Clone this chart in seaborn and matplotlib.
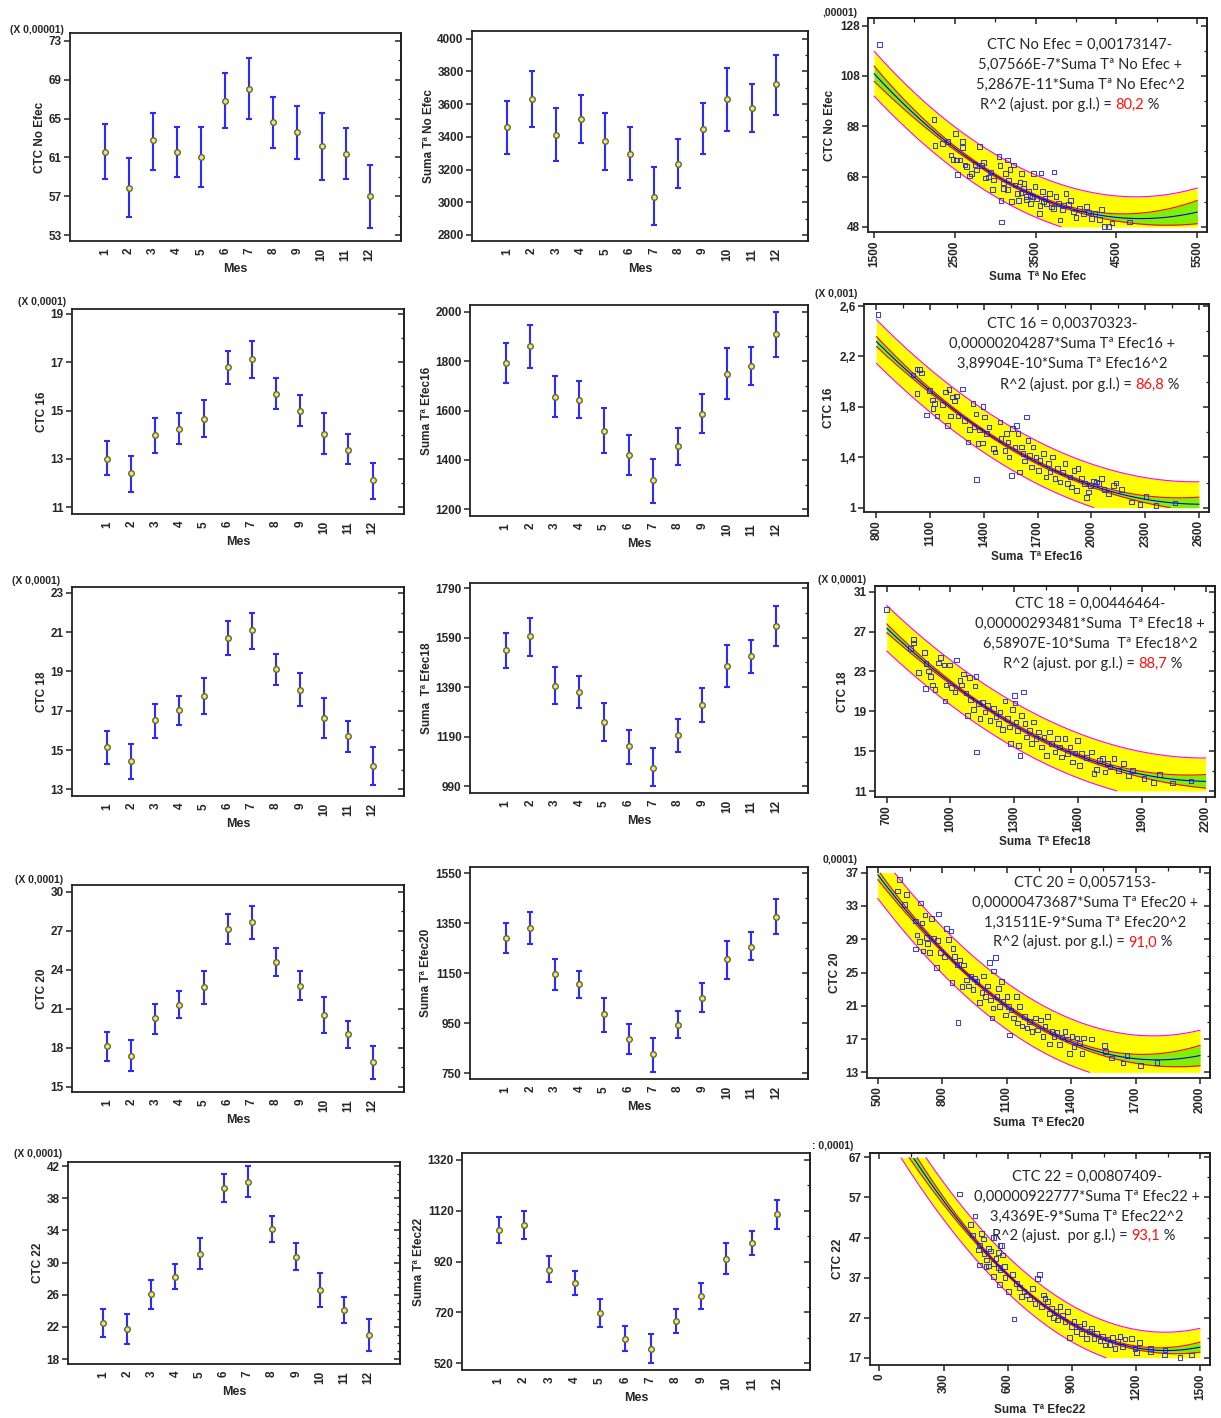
import numpy as np
import matplotlib
matplotlib.use("Agg")
import matplotlib.pyplot as plt
import seaborn as sns
from matplotlib.ticker import FixedLocator, FuncFormatter

sns.set_theme(style="white")
plt.rcParams['font.family'] = ['Liberation Sans', 'DejaVu Sans']

months = list(range(1, 13))

# ---------------- Row 1: No Efec ----------------
ctc_ne_mean = [61.58, 57.87, 62.74, 61.58, 61.03, 66.79, 68.03, 64.63, 63.63, 62.13, 61.40, 56.98]
ctc_ne_lo = [58.76, 54.92, 59.72, 58.94, 57.97, 64.01, 65.00, 61.92, 60.82, 58.69, 58.76, 53.75]
ctc_ne_hi = [64.46, 60.96, 65.59, 64.11, 64.15, 69.64, 71.18, 67.20, 66.34, 65.59, 64.01, 60.20]
suma_ne_mean = [3457, 3634, 3412, 3508, 3374, 3294, 3034, 3235, 3449, 3630, 3575, 3723]
suma_ne_lo = [3296, 3461, 3252, 3365, 3197, 3136, 2859, 3089, 3296, 3435, 3431, 3536]
suma_ne_hi = [3618, 3803, 3579, 3654, 3546, 3457, 3213, 3384, 3607, 3823, 3723, 3902]
pts_ne = [(1570, 120.4), (2244, 90.8), (2256, 80.3), (2347, 81.2), (2417, 81.9), (2508, 85.2),
          (2595, 81.9), (2595, 79.5), (2450, 76.6), (2479, 74.8), (2521, 74.6), (2562, 74.6),
          (2529, 68.9), (2624, 72.6), (2678, 68.3), (2707, 69.3), (2748, 72.9), (2802, 79.9),
          (2831, 72.3), (2851, 73.6), (2880, 67.5), (2913, 67.9), (2942, 69.9), (2963, 62.9),
          (3045, 75.9), (3058, 72.3), (3070, 58.6), (3078, 50.0), (3099, 63.3), (3124, 69.3),
          (3149, 74.6), (3161, 66.6), (3182, 70.9), (3203, 58.0), (3223, 72.6), (3244, 64.6),
          (3273, 61.3), (3306, 65.9), (3327, 69.3), (3355, 65.3), (3380, 60.0), (3409, 62.0),
          (3438, 57.3), (3471, 69.3), (3492, 64.0), (3512, 59.3), (3545, 53.3), (3566, 69.5),
          (3587, 62.0), (3616, 59.3), (3636, 57.3), (3669, 61.3), (3698, 56.0), (3727, 69.9),
          (3752, 60.0), (3781, 57.3), (3802, 50.7), (3835, 54.9), (3876, 61.3), (3905, 57.0),
          (3934, 58.6), (3967, 54.0), (4000, 51.7), (4041, 55.3), (4091, 53.3), (4132, 56.2),
          (4157, 54.0), (4194, 51.3), (4236, 53.3), (4289, 50.9), (4318, 54.9), (4347, 48.3),
          (4405, 48.3), (4442, 49.6), (4661, 50.0), (3388, 58.9), (3554, 56.6), (3719, 55.3),
          (3843, 56.6), (3285, 58.6), (3430, 60.6), (3099, 65.5), (2975, 66.6), (2769, 70.6),
          (2645, 71.9), (3150, 63.0), (3320, 61.5), (3460, 60.2), (3600, 58.0), (3350, 63.5)]
coef_ne = [0.00173147, -5.07566e-7, 5.2867e-11]
r2_ne = "80,2"

# ---------------- Row 2: Efec16 ----------------
ctc_16_mean = [13.00, 12.41, 13.98, 14.24, 14.67, 16.82, 17.12, 15.70, 14.99, 14.02, 13.37, 12.12]
ctc_16_lo = [12.34, 11.65, 13.26, 13.62, 13.92, 16.09, 16.34, 15.07, 14.37, 13.21, 12.78, 11.33]
ctc_16_hi = [13.72, 13.12, 14.70, 14.89, 15.44, 17.48, 17.87, 16.35, 15.66, 14.88, 14.03, 12.85]
suma_16_mean = [1792, 1861, 1655, 1641, 1518, 1419, 1317, 1455, 1587, 1749, 1782, 1908]
suma_16_lo = [1711, 1773, 1572, 1569, 1429, 1339, 1227, 1380, 1508, 1648, 1705, 1818]
suma_16_hi = [1872, 1947, 1738, 1718, 1610, 1501, 1404, 1531, 1665, 1852, 1857, 2000]
pts_16 = [(809, 2.534), (1005, 2.052), (1027, 2.099), (1042, 2.097), (1051, 2.070), (1027, 1.906),
          (1079, 1.734), (1098, 1.932), (1113, 1.853), (1116, 1.787), (1126, 1.827), (1139, 1.726),
          (1168, 1.821), (1187, 1.919), (1196, 1.654), (1206, 1.938), (1213, 1.726), (1224, 1.879),
          (1237, 1.848), (1247, 1.885), (1256, 1.726), (1280, 1.943), (1293, 1.694), (1312, 1.522),
          (1321, 1.620), (1340, 1.827), (1344, 1.641), (1355, 1.742), (1359, 1.223), (1368, 1.509),
          (1377, 1.615), (1392, 1.514), (1396, 1.805), (1405, 1.721), (1414, 1.588), (1429, 1.641),
          (1452, 1.469), (1461, 1.442), (1489, 1.681), (1496, 1.548), (1517, 1.456), (1526, 1.588),
          (1535, 1.522), (1541, 1.403), (1554, 1.257), (1559, 1.628), (1573, 1.482), (1582, 1.654),
          (1591, 1.588), (1597, 1.283), (1610, 1.482), (1619, 1.429), (1628, 1.371), (1638, 1.721),
          (1647, 1.535), (1656, 1.416), (1665, 1.323), (1675, 1.482), (1690, 1.403), (1703, 1.297),
          (1712, 1.376), (1731, 1.429), (1746, 1.244), (1759, 1.350), (1768, 1.283), (1783, 1.403),
          (1796, 1.230), (1809, 1.310), (1824, 1.204), (1839, 1.283), (1852, 1.350), (1865, 1.191),
          (1880, 1.244), (1889, 1.164), (1902, 1.297), (1917, 1.138), (1926, 1.310), (1945, 1.230),
          (1963, 1.191), (1973, 1.079), (1982, 1.124), (1995, 1.177), (2010, 1.212), (2029, 1.204),
          (2043, 1.191), (2056, 1.230), (2070, 1.143), (2094, 1.111), (2122, 1.177), (2137, 1.196),
          (2168, 1.143), (2224, 1.045), (2271, 1.024), (2304, 1.090), (2360, 1.019), (2466, 1.037)]
coef_16 = [0.00370323, -0.00000204287, 3.89904e-10]
r2_16 = "86,8"

# ---------------- Row 3: Efec18 ----------------
ctc_18_mean = [15.16, 14.43, 16.53, 17.02, 17.74, 20.69, 21.10, 19.13, 18.06, 16.63, 15.70, 14.17]
ctc_18_lo = [14.29, 13.54, 15.63, 16.26, 16.84, 19.83, 20.15, 18.33, 17.26, 15.60, 14.90, 13.24]
ctc_18_hi = [15.99, 15.31, 17.36, 17.77, 18.69, 21.56, 21.98, 19.89, 18.91, 17.67, 16.48, 15.14]
suma_18_mean = [1541, 1595, 1395, 1371, 1250, 1151, 1065, 1198, 1317, 1475, 1515, 1636]
suma_18_lo = [1467, 1518, 1324, 1308, 1172, 1079, 990, 1130, 1249, 1390, 1449, 1557]
suma_18_hi = [1608, 1669, 1471, 1434, 1327, 1219, 1145, 1263, 1386, 1562, 1580, 1720]
pts_18 = [(700, 29.22), (813, 25.30), (825, 26.21), (825, 25.87), (850, 22.89), (877, 24.90),
          (882, 21.28), (885, 23.80), (896, 23.06), (907, 22.52), (916, 21.62), (927, 21.18),
          (943, 23.86), (954, 24.40), (970, 23.63), (974, 20.05), (979, 21.62), (995, 23.63),
          (1006, 21.39), (1021, 20.95), (1029, 24.13), (1045, 22.06), (1053, 21.62), (1060, 22.73),
          (1073, 20.85), (1079, 18.60), (1089, 22.39), (1095, 20.18), (1108, 19.17), (1115, 21.52),
          (1120, 22.52), (1123, 14.92), (1131, 19.78), (1139, 18.27), (1151, 19.94), (1162, 18.94),
          (1175, 19.61), (1186, 18.10), (1202, 19.27), (1214, 18.44), (1225, 17.77), (1233, 18.94),
          (1245, 17.16), (1256, 20.05), (1267, 18.27), (1277, 17.43), (1283, 15.76), (1292, 19.17),
          (1300, 20.61), (1303, 19.84), (1308, 17.93), (1314, 17.10), (1321, 15.59), (1327, 14.58),
          (1335, 18.60), (1343, 20.95), (1350, 17.77), (1358, 16.43), (1371, 17.10), (1382, 15.76),
          (1390, 17.93), (1402, 16.26), (1413, 16.93), (1429, 15.42), (1440, 16.43), (1452, 14.58),
          (1465, 16.93), (1476, 15.76), (1492, 14.92), (1503, 16.26), (1512, 15.42), (1523, 14.42),
          (1539, 16.26), (1550, 14.75), (1562, 15.42), (1575, 13.91), (1586, 14.82), (1597, 16.09),
          (1606, 13.58), (1617, 14.75), (1640, 14.35), (1664, 14.92), (1675, 12.74), (1688, 13.14),
          (1700, 14.08), (1716, 14.25), (1727, 12.91), (1738, 13.75), (1750, 13.41), (1769, 14.25),
          (1789, 13.08), (1813, 13.75), (1836, 12.57), (1857, 13.08), (1910, 12.24), (1954, 11.84),
          (1982, 12.67), (2045, 11.80), (2131, 12.01)]
coef_18 = [0.00446464, -0.00000293481, 6.58907e-10]
r2_18 = "88,7"

# ---------------- Row 4: Efec20 ----------------
ctc_20_mean = [18.11, 17.39, 20.26, 21.27, 22.63, 27.12, 27.66, 24.58, 22.76, 20.52, 19.06, 16.87]
ctc_20_lo = [16.98, 16.18, 19.06, 20.26, 21.39, 25.99, 26.38, 23.50, 21.70, 19.13, 17.97, 15.62]
ctc_20_hi = [19.24, 18.57, 21.37, 22.35, 23.89, 28.25, 28.87, 25.63, 23.89, 21.86, 20.09, 18.16]
suma_20_mean = [1292, 1330, 1145, 1105, 987, 886, 825, 942, 1052, 1207, 1256, 1374]
suma_20_lo = [1231, 1268, 1083, 1050, 916, 827, 755, 890, 994, 1128, 1202, 1306]
suma_20_hi = [1352, 1396, 1208, 1159, 1050, 946, 889, 1000, 1112, 1278, 1313, 1445]
pts_20 = [(601, 36.20), (593, 34.80), (633, 34.36), (624, 33.17), (698, 33.37), (675, 31.21),
          (675, 27.81), (683, 29.49), (695, 28.69), (706, 30.97), (711, 27.58), (719, 31.89),
          (726, 29.21), (732, 28.49), (742, 27.38), (750, 31.49), (760, 29.17), (773, 25.58),
          (779, 28.81), (784, 32.01), (791, 27.38), (810, 26.90), (819, 30.29), (830, 28.97),
          (841, 30.01), (846, 23.78), (850, 27.89), (858, 26.90), (869, 25.90), (874, 18.99),
          (881, 26.50), (892, 23.30), (900, 25.90), (912, 24.10), (923, 23.38), (934, 24.50),
          (943, 22.98), (949, 24.30), (962, 23.90), (974, 21.38), (985, 22.58), (993, 24.58),
          (1000, 22.10), (1011, 23.38), (1021, 26.18), (1024, 21.70), (1032, 19.51), (1036, 20.71),
          (1039, 25.18), (1047, 26.82), (1055, 22.10), (1063, 23.10), (1067, 20.91), (1075, 23.90),
          (1083, 21.50), (1094, 19.91), (1101, 22.10), (1109, 20.91), (1114, 17.51), (1120, 20.51),
          (1132, 19.51), (1145, 22.10), (1151, 18.91), (1160, 20.91), (1171, 18.59), (1182, 19.71),
          (1194, 18.31), (1207, 19.11), (1217, 17.91), (1233, 19.51), (1244, 18.11), (1256, 19.31),
          (1269, 17.31), (1279, 18.59), (1290, 19.71), (1300, 16.43), (1310, 17.91), (1321, 17.31),
          (1334, 17.79), (1346, 16.31), (1357, 17.23), (1372, 17.91), (1383, 16.99), (1393, 15.24),
          (1403, 17.31), (1414, 16.11), (1427, 17.11), (1439, 16.51), (1450, 15.24), (1458, 17.11),
          (1496, 17.03), (1554, 16.19), (1559, 15.51), (1589, 14.72), (1659, 15.04), (1641, 14.12),
          (1724, 13.84), (1799, 14.20)]
coef_20 = [0.0057153, -0.00000473687, 1.31511e-9]
r2_20 = "91,0"

# ---------------- Row 5: Efec22 ----------------
ctc_22_mean = [22.45, 21.71, 26.09, 28.24, 31.13, 39.31, 40.06, 34.23, 30.68, 26.59, 24.07, 21.05]
ctc_22_lo = [20.72, 19.85, 24.23, 26.67, 29.19, 37.58, 38.16, 32.62, 29.02, 24.44, 22.45, 19.02]
ctc_22_hi = [24.19, 23.61, 27.83, 29.85, 33.07, 41.01, 42.00, 35.80, 32.41, 28.74, 25.76, 22.99]
suma_22_mean = [1043, 1064, 887, 834, 719, 617, 575, 687, 784, 930, 991, 1107]
suma_22_lo = [992, 1010, 838, 788, 661, 570, 520, 641, 734, 870, 945, 1049]
suma_22_hi = [1093, 1119, 941, 881, 772, 668, 634, 734, 834, 991, 1039, 1163]
pts_22 = [(374, 57.83), (447, 52.42), (427, 50.33), (437, 47.67), (479, 48.08), (486, 46.67),
          (533, 47.00), (468, 45.17), (463, 43.92), (468, 40.17), (490, 43.08), (502, 41.42),
          (510, 44.33), (521, 43.67), (499, 39.75), (510, 39.92), (533, 40.58), (546, 41.83),
          (557, 43.33), (564, 45.00), (572, 45.00), (557, 39.50), (564, 38.92), (577, 42.67),
          (585, 39.75), (533, 37.25), (561, 35.33), (588, 37.00), (603, 33.50), (624, 37.83),
          (630, 26.67), (642, 35.58), (655, 34.50), (666, 32.25), (677, 33.50), (689, 32.67),
          (702, 31.67), (717, 34.33), (728, 30.58), (739, 36.83), (748, 37.83), (759, 29.75),
          (767, 32.67), (775, 31.83), (786, 31.00), (795, 28.08), (806, 29.33), (814, 27.00),
          (826, 28.50), (833, 26.42), (845, 29.75), (858, 27.67), (869, 26.00), (879, 28.50),
          (889, 22.00), (900, 24.75), (911, 26.00), (923, 23.50), (936, 24.75), (947, 23.08),
          (957, 25.58), (970, 21.83), (982, 23.50), (993, 24.33), (1004, 21.83), (1017, 23.08),
          (1032, 21.17), (1045, 22.25), (1056, 20.17), (1067, 21.67), (1079, 20.33), (1092, 22.00),
          (1102, 19.33), (1115, 21.00), (1126, 22.25), (1138, 19.75), (1149, 21.67), (1180, 21.83),
          (1196, 19.33), (1216, 20.83), (1204, 18.33), (1269, 19.33), (1269, 18.50), (1333, 17.67),
          (1336, 18.92), (1407, 17.08), (1461, 17.67)]
coef_22 = [0.00807409, -0.00000922777, 3.4369e-9]
r2_22 = "93,1"

# residual standard deviation (display units) and number of observations
resid_sd = [4.27, 0.086, 1.14, 1.42, 2.3]
n_obs = 360

# ---------------- styling / layout ----------------
W, H = 1221, 1418
fig = plt.figure(figsize=(W / 100, H / 100), dpi=100)
fig.patch.set_facecolor('white')

BLUE = '#2b2bff'
SPINE = '#222222'
TICKFS = 8.5
LABFS = 8.5
EQFONT = ['Lato', 'DejaVu Sans']
EQFS = 10.5


def add_ax(l, t, r, b):
    return fig.add_axes([l / W, 1 - b / H, (r - l) / W, (b - t) / H])


def fmt(v, _):
    s = f"{round(v, 6):g}"
    return s.replace('.', ',')


def style_common(ax):
    ax.set_facecolor('white')
    for sp in ax.spines.values():
        sp.set_color(SPINE)
        sp.set_linewidth(1.3)
        sp.set_visible(True)
    ax.grid(False)


def right_ticks(ax, majors, minors):
    sec = ax.secondary_yaxis('right')
    sec.yaxis.set_major_locator(FixedLocator(majors))
    sec.yaxis.set_minor_locator(FixedLocator(minors))
    sec.tick_params(axis='y', which='major', direction='in', length=4.5, width=1.1,
                    color=SPINE, labelright=False)
    sec.tick_params(axis='y', which='minor', direction='in', length=2.5, width=0.9,
                    color=SPINE)
    sec.spines['right'].set_color(SPINE)
    sec.spines['right'].set_linewidth(1.3)


def month_panel(ax, mean, lo, hi, ylim, ticks, minor_step, ylabel):
    mean = np.asarray(mean, float)
    lo = np.asarray(lo, float)
    hi = np.asarray(hi, float)
    ax.errorbar(months, mean, yerr=[mean - lo, hi - mean], fmt='none', ecolor=BLUE,
                elinewidth=1.5, capsize=2.3, capthick=1.5, zorder=2)
    sns.scatterplot(x=months, y=mean, ax=ax, marker='o', s=16, facecolor='#e4e4a0',
                    edgecolor='#6a6a10', linewidth=1.0, zorder=3, legend=False)
    style_common(ax)
    ax.set_xlim(-0.45, 13.3)
    ax.set_ylim(*ylim)
    ax.set_xticks(months)
    ax.set_xticklabels([str(m) for m in months], rotation=90, fontsize=TICKFS,
                       fontweight='bold')
    ax.tick_params(axis='x', length=0, pad=5)
    ax.yaxis.set_major_locator(FixedLocator(ticks))
    ax.yaxis.set_major_formatter(FuncFormatter(fmt))
    ax.tick_params(axis='y', which='major', direction='out', length=4, width=1.1,
                   color=SPINE, labelsize=TICKFS, left=True, pad=2)
    for lab in ax.get_yticklabels():
        lab.set_fontweight('bold')
    minors = np.arange(ticks[0], ticks[-1] + minor_step / 2, minor_step)
    right_ticks(ax, ticks, minors)
    ax.set_xlabel('Mes', fontsize=9, fontweight='bold', labelpad=1)
    ax.set_ylabel(ylabel, fontsize=LABFS, fontweight='bold', labelpad=2)


def bands(xs, grid, coef, sd):
    xs = np.asarray(xs, float)
    mu, sg = xs.mean(), xs.std()
    z = (xs - mu) / sg
    X = np.column_stack([np.ones_like(z), z, z ** 2])
    xtx_inv = np.linalg.inv(X.T @ X) * len(xs) / n_obs
    zg = (grid - mu) / sg
    G = np.column_stack([np.ones_like(zg), zg, zg ** 2])
    h = np.einsum('ij,jk,ik->i', G, xtx_inv, G)
    fit = coef[0] + coef[1] * grid + coef[2] * grid ** 2
    tval = 1.967
    conf = tval * sd * np.sqrt(h)
    pred = tval * sd * np.sqrt(1 + h)
    return fit, conf, pred


def scatter_panel(ax, pts, coef, scale, sd, xticks, xminor, yticks, yminor, xlim, ylim,
                  ylabel, xlabel, eq_lines, r2_pre, r2_val, eq_x, line_y, r2_x):
    xs = np.array([p[0] for p in pts], float)
    ys = np.array([p[1] for p in pts], float)
    c = np.array(coef) / scale
    grid = np.linspace(xticks[0], xticks[-1], 400)
    fit, conf, pred = bands(xs, grid, c, sd)
    y0, y1 = yticks[0], yticks[-1]

    def clip(a):
        return np.clip(a, y0, y1)

    def mask(a):
        a = a.copy()
        a[(a < y0 - 1e-9) | (a > y1 + 1e-9)] = np.nan
        return a

    ax.fill_between(grid, clip(fit - pred), clip(fit + pred), color='#ffff00', lw=0, zorder=1)
    ax.fill_between(grid, clip(fit - conf), clip(fit + conf), color='#80f000', lw=0, zorder=1.5)
    ax.plot(grid, mask(fit + pred), color='#ff00ff', lw=0.8, zorder=2)
    ax.plot(grid, mask(fit - pred), color='#ff00ff', lw=0.8, zorder=2)
    ax.plot(grid, mask(fit + conf), color='#ff0000', lw=0.8, zorder=2.2)
    ax.plot(grid, mask(fit - conf), color='#ff0000', lw=0.8, zorder=2.2)
    sns.scatterplot(x=xs, y=ys, ax=ax, marker='s', s=11, facecolor='none',
                    edgecolor='#2a2ad8', linewidth=0.75, alpha=0.9, zorder=3, legend=False)
    sns.lineplot(x=grid, y=mask(fit), ax=ax, color='#0000ff', lw=0.8, zorder=4)
    style_common(ax)
    ax.set_xlim(*xlim)
    ax.set_ylim(*ylim)
    ax.xaxis.set_major_locator(FixedLocator(xticks))
    ax.yaxis.set_major_locator(FixedLocator(yticks))
    ax.xaxis.set_major_formatter(FuncFormatter(fmt))
    ax.yaxis.set_major_formatter(FuncFormatter(fmt))
    ax.tick_params(axis='x', which='major', direction='out', length=4, width=1.1,
                   color=SPINE, labelsize=TICKFS, bottom=True, labelrotation=90, pad=2)
    ax.tick_params(axis='y', which='major', direction='out', length=4, width=1.1,
                   color=SPINE, labelsize=TICKFS, left=True, pad=2)
    for lab in ax.get_xticklabels() + ax.get_yticklabels():
        lab.set_fontweight('bold')
    right_ticks(ax, yticks, yminor)
    sec = ax.secondary_xaxis('top')
    sec.xaxis.set_major_locator(FixedLocator(xticks))
    sec.xaxis.set_minor_locator(FixedLocator(xminor))
    sec.tick_params(axis='x', which='major', direction='in', length=4.5, width=1.1,
                    color=SPINE, labeltop=False)
    sec.tick_params(axis='x', which='minor', direction='in', length=3, width=0.9, color=SPINE)
    sec.spines['top'].set_color(SPINE)
    sec.spines['top'].set_linewidth(1.3)
    ax.set_xlabel(xlabel, fontsize=LABFS, fontweight='bold', labelpad=3)
    ax.set_ylabel(ylabel, fontsize=LABFS, fontweight='bold', labelpad=3)

    for line, yy in zip(eq_lines, line_y[:3]):
        ax.text(eq_x, yy, line, transform=ax.transAxes, ha='center', va='center',
                fontsize=EQFS, family=EQFONT, zorder=10)
    t1 = ax.text(r2_x, line_y[3], r2_pre, transform=ax.transAxes, ha='left', va='center',
                 fontsize=EQFS, family=EQFONT, zorder=10)
    t2 = ax.annotate(r2_val, xy=(1, 0), xycoords=t1, ha='left', va='bottom',
                     fontsize=EQFS, family=EQFONT, color='#ff1010', zorder=10)
    ax.annotate(" %", xy=(1, 0), xycoords=t2, ha='left', va='bottom',
                fontsize=EQFS, family=EQFONT, zorder=10)


def mult(x, y, s):
    fig.text(x / W, 1 - y / H, s, fontsize=7.5, fontweight='bold', ha='left', va='center')


# ---------------- Row 1 ----------------
ax = add_ax(70, 33, 401, 241)
month_panel(ax, ctc_ne_mean, ctc_ne_lo, ctc_ne_hi, (52.4, 73.8), [53, 57, 61, 65, 69, 73], 2,
            'CTC No Efec')
ax = add_ax(472, 31, 808, 241)
month_panel(ax, suma_ne_mean, suma_ne_lo, suma_ne_hi, (2763, 4047),
            [2800, 3000, 3200, 3400, 3600, 3800, 4000], 100, 'Suma Tª No Efec')
ax = add_ax(868, 18, 1207, 232)
scatter_panel(ax, pts_ne, coef_ne, 1e-5, resid_sd[0], [1500, 2500, 3500, 4500, 5500],
              np.arange(1500, 5501, 500), [48, 68, 88, 108, 128], np.arange(48, 129, 10),
              (1425, 5620), (46, 131), 'CTC No Efec', 'Suma  Tª No Efec',
              ["CTC No Efec = 0,00173147-", "5,07566E-7*Suma Tª No Efec +",
               "5,2867E-11*Suma Tª No Efec^2"], "R^2 (ajust. por g.l.) = ", r2_ne,
              0.625, [0.874, 0.78, 0.687, 0.598], 0.33)

# ---------------- Row 2 ----------------
ax = add_ax(72, 309, 404, 514)
month_panel(ax, ctc_16_mean, ctc_16_lo, ctc_16_hi, (10.72, 19.2), [11, 13, 15, 17, 19], 1,
            'CTC 16')
ax = add_ax(470, 305, 808, 516)
month_panel(ax, suma_16_mean, suma_16_lo, suma_16_hi, (1173, 2027),
            [1200, 1400, 1600, 1800, 2000], 100, 'Suma Tª Efec16')
ax = add_ax(864, 304, 1209, 512)
scatter_panel(ax, pts_16, coef_16, 1e-3, resid_sd[1], [800, 1100, 1400, 1700, 2000, 2300, 2600],
              np.arange(800, 2601, 150), [1.0, 1.4, 1.8, 2.2, 2.6], np.arange(1.0, 2.61, 0.2),
              (731, 2656), (0.966, 2.616), 'CTC 16', 'Suma  Tª Efec16',
              ["CTC 16 = 0,00370323-", "0,00000204287*Suma Tª Efec16 +",
               "3,89904E-10*Suma Tª Efec16^2"], "R^2 (ajust. por g.l.) = ", r2_16,
              0.574, [0.904, 0.81, 0.71, 0.615], 0.394)

# ---------------- Row 3 ----------------
ax = add_ax(72, 587, 404, 796)
month_panel(ax, ctc_18_mean, ctc_18_lo, ctc_18_hi, (12.66, 23.3), [13, 15, 17, 19, 21, 23], 1,
            'CTC 18')
ax = add_ax(470, 583, 808, 793)
month_panel(ax, suma_18_mean, suma_18_lo, suma_18_hi, (963, 1811),
            [990, 1190, 1390, 1590, 1790], 100, 'Suma  Tª Efec18')
ax = add_ax(875, 586, 1215, 797)
scatter_panel(ax, pts_18, coef_18, 1e-4, resid_sd[2], [700, 1000, 1300, 1600, 1900, 2200],
              np.arange(700, 2201, 150), [11, 15, 19, 23, 27, 31], np.arange(11, 31.1, 2),
              (645, 2244), (10.4, 31.57), 'CTC 18', 'Suma  Tª Efec18',
              ["CTC 18 = 0,00446464-", "0,00000293481*Suma  Tª Efec18 +",
               "6,58907E-10*Suma  Tª Efec18^2"], "R^2 (ajust. por g.l.) = ", r2_18,
              0.632, [0.915, 0.82, 0.725, 0.635], 0.376)

# ---------------- Row 4 ----------------
ax = add_ax(72, 885, 404, 1092)
month_panel(ax, ctc_20_mean, ctc_20_lo, ctc_20_hi, (14.6, 30.5), [15, 18, 21, 24, 27, 30], 1.5,
            'CTC 20')
ax = add_ax(470, 867, 808, 1079)
month_panel(ax, suma_20_mean, suma_20_lo, suma_20_hi, (726, 1575),
            [750, 950, 1150, 1350, 1550], 100, 'Suma Tª Efec20')
ax = add_ax(867, 867, 1210, 1078)
scatter_panel(ax, pts_20, coef_20, 1e-4, resid_sd[3], [500, 800, 1100, 1400, 1700, 2000],
              np.arange(500, 2001, 150), [13, 17, 21, 25, 29, 33, 37], np.arange(13, 37.1, 2),
              (450, 2046), (12.32, 37.68), 'CTC 20', 'Suma  Tª Efec20',
              ["CTC 20 = 0,0057153-", "0,00000473687*Suma Tª Efec20 +",
               "1,31511E-9*Suma Tª Efec20^2"], "R^2 (ajust. por g.l.) = ", r2_20,
              0.636, [0.924, 0.829, 0.735, 0.645], 0.367)

# ---------------- Row 5 ----------------
ax = add_ax(68, 1162, 400, 1364)
month_panel(ax, ctc_22_mean, ctc_22_lo, ctc_22_hi, (17.4, 42.5), [18, 22, 26, 30, 34, 38, 42], 1,
            'CTC 22')
ax = add_ax(462, 1153, 810, 1370)
month_panel(ax, suma_22_mean, suma_22_lo, suma_22_hi, (494, 1346),
            [520, 720, 920, 1120, 1320], 100, 'Suma Tª Efec22')
ax = add_ax(870, 1153, 1210, 1365)
scatter_panel(ax, pts_22, coef_22, 1e-4, resid_sd[4], [0, 300, 600, 900, 1200, 1500],
              np.arange(0, 1501, 150), [17, 27, 37, 47, 57, 67], np.arange(17, 67.1, 5),
              (-44, 1547), (15.2, 68.1), 'CTC 22', 'Suma  Tª Efec22',
              ["CTC 22 = 0,00807409-", "0,00000922777*Suma Tª Efec22 +",
               "3,4369E-9*Suma Tª Efec22^2"], "R^2 (ajust.  por g.l.) = ", r2_22,
              0.638, [0.887, 0.792, 0.698, 0.613], 0.359)

# multiplier labels
mult(10, 30, '(X 0,00001)')
mult(822, 13, ',00001)')
mult(18, 302, '(X 0,0001)')
mult(815, 294, '(X 0,001)')
mult(12, 581, '(X 0,0001)')
mult(818, 580, '(X 0,0001)')
mult(15, 880, '(X 0,0001)')
mult(823, 860, '0,0001)')
mult(14, 1154, '(X 0,0001)')
mult(812, 1146, ': 0,0001)')

fig.savefig('out.png', dpi=100, facecolor='white')
